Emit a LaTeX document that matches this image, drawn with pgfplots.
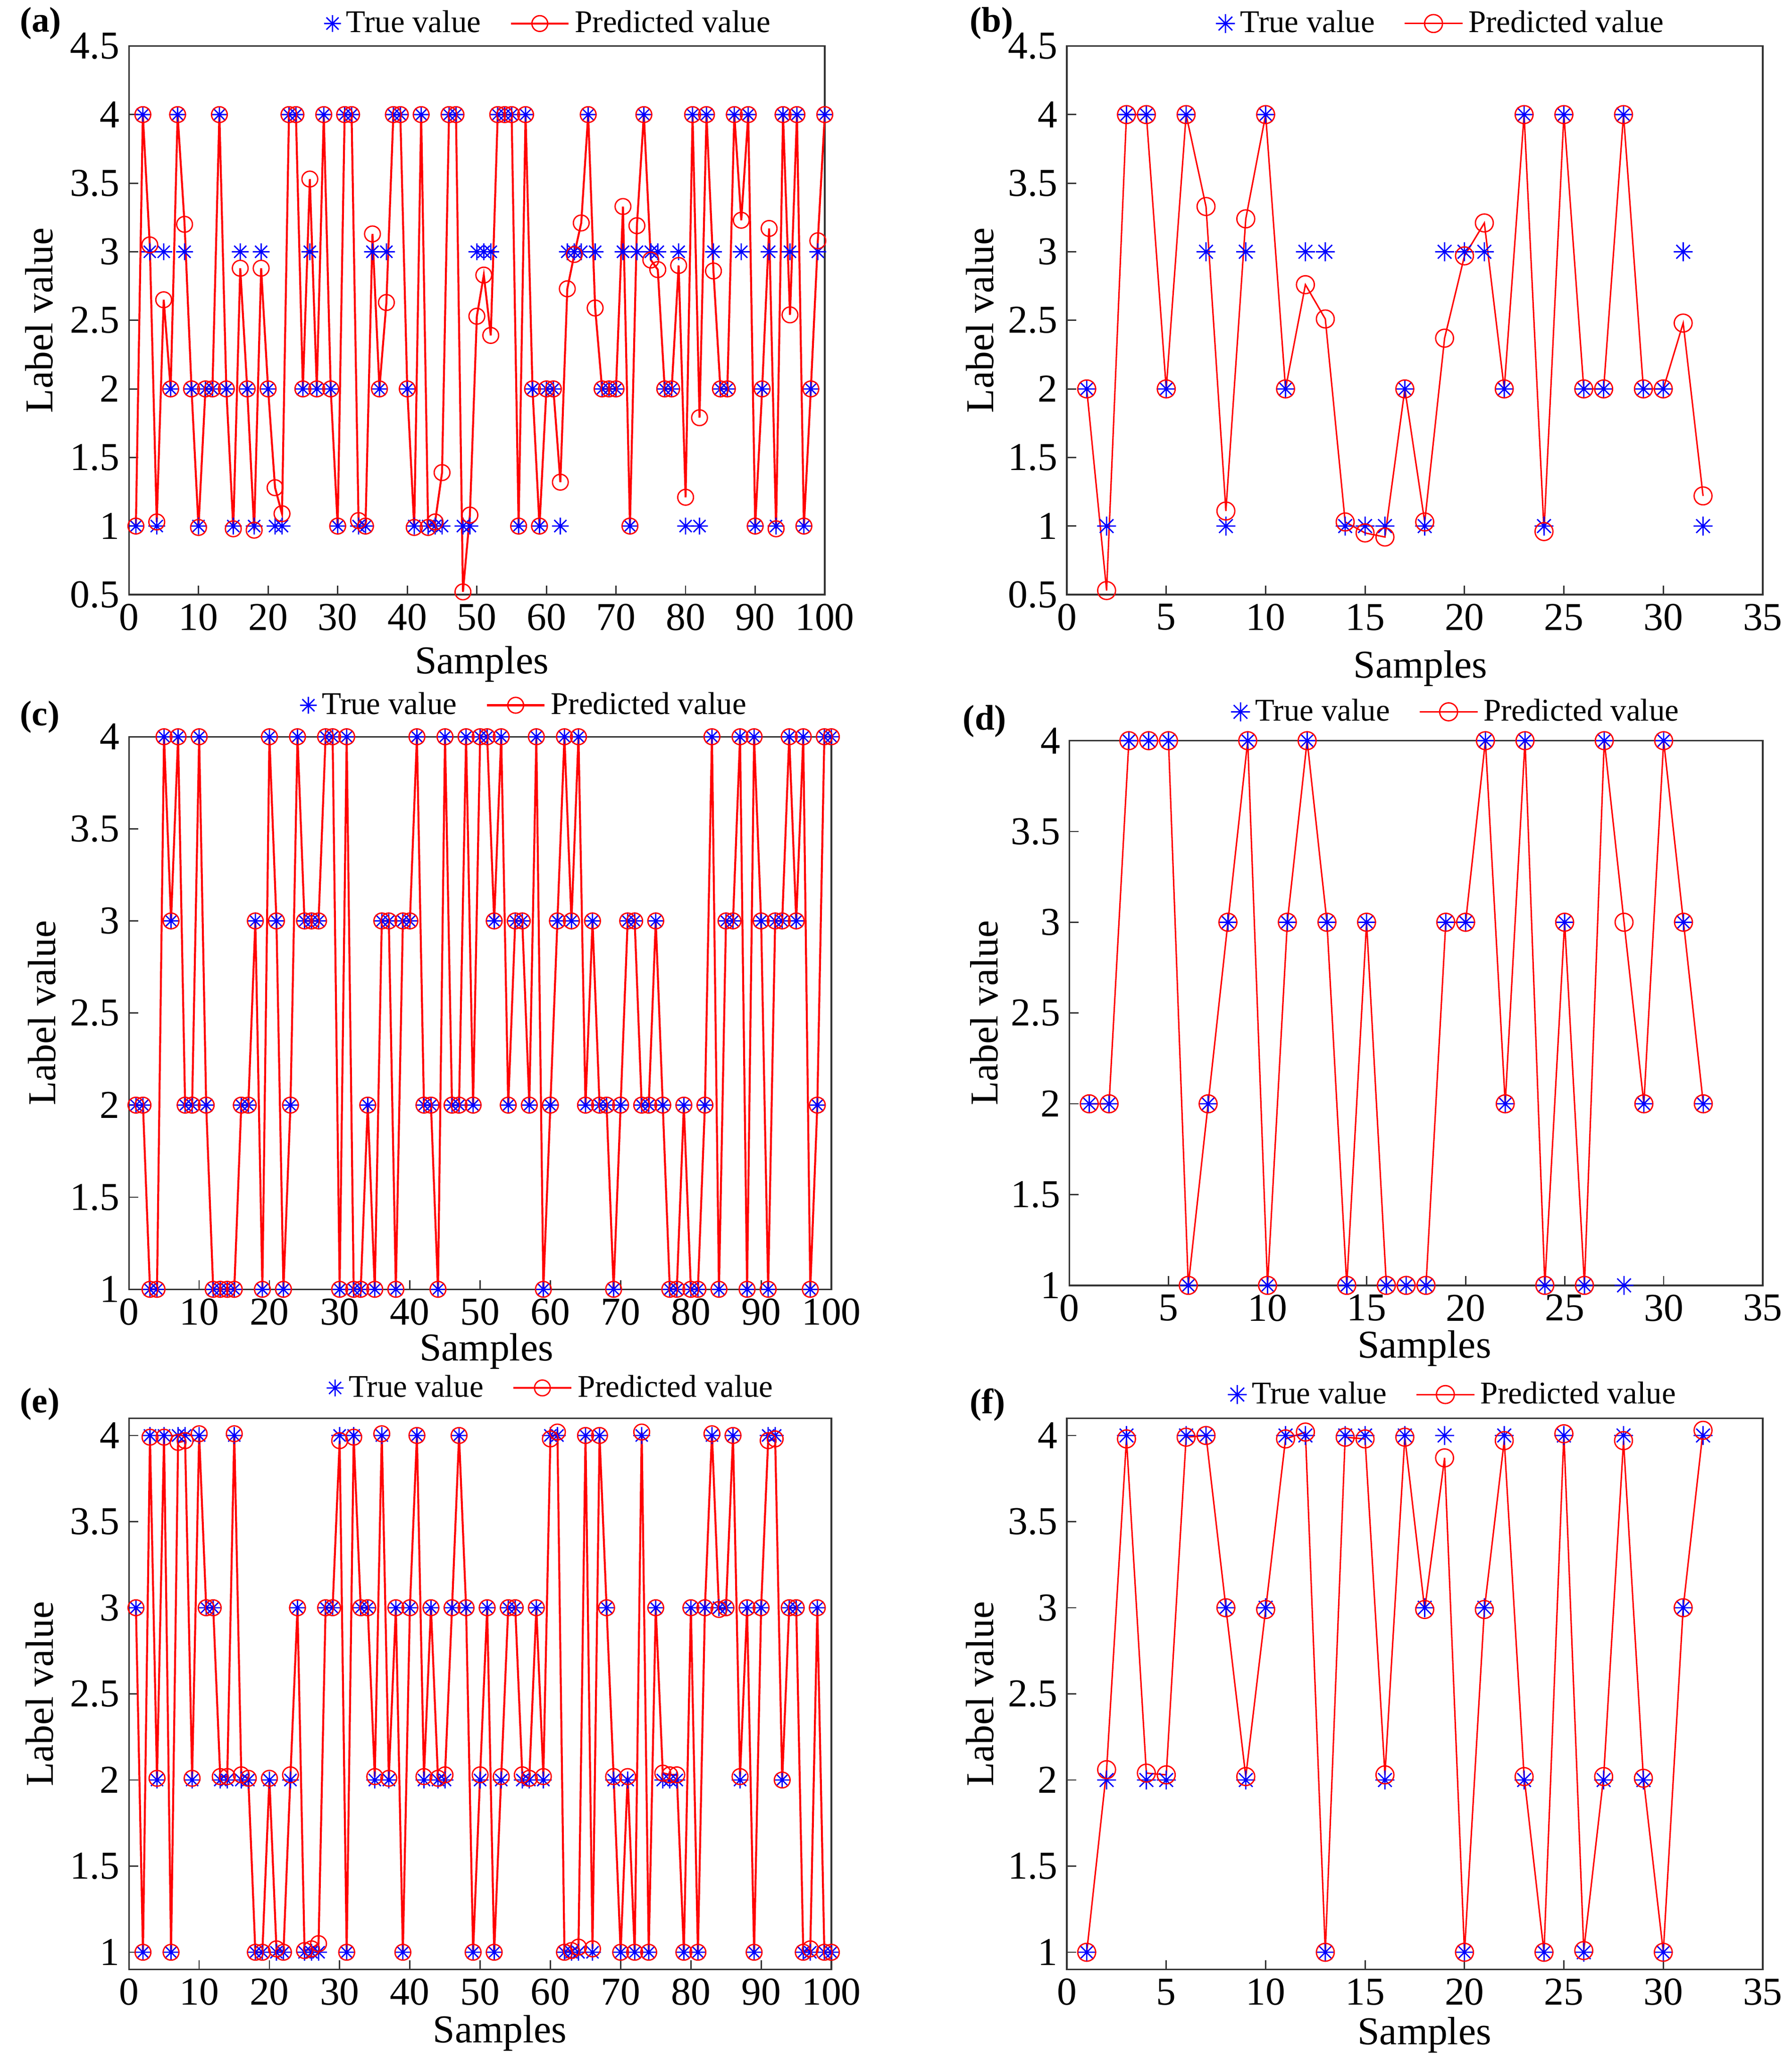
\documentclass[border=0pt]{standalone}
\usepackage{pgfplots}
\usepackage{pgfplotstable}
\pgfplotsset{compat=1.18}
\usepackage{fontspec}
\setmainfont{Liberation Serif}

\pgfdeclareplotmark{mstar}{%
  \pgfpathmoveto{\pgfpoint{-\pgfplotmarksize}{0pt}}\pgfpathlineto{\pgfpoint{\pgfplotmarksize}{0pt}}%
  \pgfpathmoveto{\pgfpoint{0pt}{-\pgfplotmarksize}}\pgfpathlineto{\pgfpoint{0pt}{\pgfplotmarksize}}%
  \pgfpathmoveto{\pgfpoint{-0.72\pgfplotmarksize}{-0.72\pgfplotmarksize}}\pgfpathlineto{\pgfpoint{0.72\pgfplotmarksize}{0.72\pgfplotmarksize}}%
  \pgfpathmoveto{\pgfpoint{-0.72\pgfplotmarksize}{0.72\pgfplotmarksize}}\pgfpathlineto{\pgfpoint{0.72\pgfplotmarksize}{-0.72\pgfplotmarksize}}%
  \pgfusepathqstroke}

\pgfplotstableread{
x t p
1 1 1
2 4 4
3 3 3.05
4 1 1.03
5 3 2.65
6 2 2
7 4 4
8 3 3.2
9 2 2
10 1 0.99
11 2 2
12 2 2
13 4 4
14 2 2
15 1 0.98
16 3 2.88
17 2 2
18 1 0.97
19 3 2.88
20 2 2
21 1 1.28
22 1 1.09
23 4 4
24 4 4
25 2 2
26 3 3.53
27 2 2
28 4 4
29 2 2
30 1 1
31 4 4
32 4 4
33 1 1.04
34 1 1
35 3 3.13
36 2 2
37 3 2.63
38 4 4
39 4 4
40 2 2
41 1 0.99
42 4 4
43 1 0.99
44 1 1.03
45 1 1.39
46 4 4
47 4 4
48 1 0.52
49 1 1.08
50 3 2.53
51 3 2.83
52 3 2.39
53 4 4
54 4 4
55 4 4
56 1 1
57 4 4
58 2 2
59 1 1
60 2 2
61 2 2
62 1 1.32
63 3 2.73
64 3 2.98
65 3 3.21
66 4 4
67 3 2.59
68 2 2
69 2 2
70 2 2
71 3 3.33
72 1 1
73 3 3.19
74 4 4
75 3 2.94
76 3 2.87
77 2 2
78 2 2
79 3 2.9
80 1 1.21
81 4 4
82 1 1.79
83 4 4
84 3 2.86
85 2 2
86 2 2
87 4 4
88 3 3.23
89 4 4
90 1 1
91 2 2
92 3 3.17
93 1 0.98
94 4 4
95 3 2.54
96 4 4
97 1 1
98 2 2
99 3 3.08
100 4 4
}\dataA

\pgfplotstableread{
x t p
1 2 2
2 1 0.53
3 4 4
4 4 4
5 2 2
6 4 4
7 3 3.33
8 1 1.11
9 3 3.24
10 4 4
11 2 2
12 3 2.76
13 3 2.51
14 1 1.03
15 1 0.95
16 1 0.92
17 2 2
18 1 1.03
19 3 2.37
20 3 2.97
21 3 3.21
22 2 2
23 4 4
24 1 0.96
25 4 4
26 2 2
27 2 2
28 4 4
29 2 2
30 2 2
31 3 2.48
32 1 1.22
}\dataB

\pgfplotstableread{
x t p
1 2 2
2 2 2
3 1 1
4 1 1
5 4 4
6 3 3
7 4 4
8 2 2
9 2 2
10 4 4
11 2 2
12 1 1
13 1 1
14 1 1
15 1 1
16 2 2
17 2 2
18 3 3
19 1 1
20 4 4
21 3 3
22 1 1
23 2 2
24 4 4
25 3 3
26 3 3
27 3 3
28 4 4
29 4 4
30 1 1
31 4 4
32 1 1
33 1 1
34 2 2
35 1 1
36 3 3
37 3 3
38 1 1
39 3 3
40 3 3
41 4 4
42 2 2
43 2 2
44 1 1
45 4 4
46 2 2
47 2 2
48 4 4
49 2 2
50 4 4
51 4 4
52 3 3
53 4 4
54 2 2
55 3 3
56 3 3
57 2 2
58 4 4
59 1 1
60 2 2
61 3 3
62 4 4
63 3 3
64 4 4
65 2 2
66 3 3
67 2 2
68 2 2
69 1 1
70 2 2
71 3 3
72 3 3
73 2 2
74 2 2
75 3 3
76 2 2
77 1 1
78 1 1
79 2 2
80 1 1
81 1 1
82 2 2
83 4 4
84 1 1
85 3 3
86 3 3
87 4 4
88 1 1
89 4 4
90 3 3
91 1 1
92 3 3
93 3 3
94 4 4
95 3 3
96 4 4
97 1 1
98 2 2
99 4 4
100 4 4
}\dataC

\pgfplotstableread{
x t p
1 2 2
2 2 2
3 4 4
4 4 4
5 4 4
6 1 1
7 2 2
8 3 3
9 4 4
10 1 1
11 3 3
12 4 4
13 3 3
14 1 1
15 3 3
16 1 1
17 1 1
18 1 1
19 3 3
20 3 3
21 4 4
22 2 2
23 4 4
24 1 1
25 3 3
26 1 1
27 4 4
28 1 3
29 2 2
30 4 4
31 3 3
32 2 2
}\dataD

\pgfplotstableread{
x t p
1 3 3
2 1 1
3 4 3.99
4 2 2.01
5 4 3.99
6 1 1
7 4 3.96
8 4 3.97
9 2 2.01
10 4 4.01
11 3 3
12 3 3
13 2 2.02
14 2 2.02
15 4 4.01
16 2 2.03
17 2 2.01
18 1 1
19 1 1
20 2 2.01
21 1 1.02
22 1 1
23 2 2.03
24 3 3
25 1 1.01
26 1 1.02
27 1 1.05
28 3 3
29 3 3
30 4 3.97
31 1 1
32 4 3.99
33 3 3
34 3 3
35 2 2.02
36 4 4.01
37 2 2.01
38 3 3
39 1 1
40 3 3
41 4 4
42 2 2.02
43 3 3
44 2 2.01
45 2 2.03
46 3 3
47 4 4
48 3 3
49 1 1
50 2 2.03
51 3 3
52 1 1
53 2 2.02
54 3 3
55 3 3
56 2 2.03
57 2 2.01
58 3 3
59 2 2.02
60 4 3.98
61 4 4.02
62 1 1
63 1 1.01
64 1 1.03
65 4 4
66 1 1.02
67 4 4
68 3 3
69 2 2.02
70 1 1
71 2 2.02
72 1 1
73 4 4.02
74 1 1
75 3 3
76 2 2.04
77 2 2.03
78 2 2.03
79 1 1
80 3 3
81 1 1
82 3 3
83 4 4.01
84 3 2.99
85 3 3
86 4 4
87 2 2.02
88 3 3
89 1 1
90 3 3
91 4 3.97
92 4 3.98
93 2 2
94 3 3
95 3 3
96 1 1
97 1 1.02
98 3 3
99 1 1
100 1 1
}\dataE

\pgfplotstableread{
x t p
1 1 1
2 2 2.06
3 4 3.98
4 2 2.04
5 2 2.03
6 4 3.99
7 4 4
8 3 3
9 2 2.02
10 3 2.99
11 4 3.98
12 4 4.02
13 1 1
14 4 3.99
15 4 3.98
16 2 2.03
17 4 3.99
18 3 2.99
19 4 3.87
20 1 1
21 3 2.99
22 4 3.97
23 2 2.02
24 1 1
25 4 4.01
26 1 1.01
27 2 2.02
28 4 3.97
29 2 2.01
30 1 1
31 3 3
32 4 4.03
}\dataF

\pgfplotsset{
  panel/.style={
    scale only axis, anchor=south west, clip=false,
    axis line style={line width=0.6pt, black!80},
    tick style={line width=0.5pt, black!80},
    major tick length=3.5pt,
    tick align=inside, tick pos=left,
    ticklabel style={font=\fontsize{15}{17}\selectfont},
    label style={font=\fontsize{15}{17}\selectfont},
    /pgf/number format/assume math mode=true,
    xlabel={Samples}, ylabel={Label value},
    legend style={draw=none, fill=none, font=\fontsize{12}{14}\selectfont,
      legend columns=2, anchor=center,
      /tikz/every even column/.append style={column sep=9pt}},
    legend cell align=left,
  },
  truep/.style={only marks, color=blue, mark=mstar, mark size=#1, mark options={line width=0.5pt}},
  predp/.style={color=red, mark=o, mark size=#1, mark options={line width=0.5pt, solid},
    legend image code/.code={\draw[mark repeat=2,mark phase=2,##1] plot coordinates {(0pt,0pt) (11pt,0pt) (22pt,0pt)};}},
}

\begin{document}
\begin{tikzpicture}
\path[use as bounding box] (0pt,0pt) rectangle (681pt,781.75pt);

% (a)
\begin{axis}[panel, at={(49pt,555.75pt)}, width=264.5pt, height=208.5pt,
  xmin=0, xmax=100, ymin=0.5, ymax=4.5,
  xtick={0,10,20,30,40,50,60,70,80,90,100},
  ytick={0.5,1,1.5,2,2.5,3,3.5,4,4.5},
  xlabel style={at={(axis description cs:0.507,-0.127)}, anchor=center},
  ylabel style={at={(axis description cs:-0.129,0.5)}, anchor=center},
  legend style={at={(0.605,1.041)}}]
\addplot[truep=3.2pt] table[x=x,y=t] {\dataA};
\addplot[predp=3pt, line width=0.75pt] table[x=x,y=p] {\dataA};
\addlegendentry{True value}
\addlegendentry{Predicted value}
\node[anchor=west, font=\bfseries\fontsize{13.5}{15}\selectfont] at (axis description cs:-0.170,1.041) {(a)};
\end{axis}

% (b)
\begin{axis}[panel, at={(405.5pt,555.75pt)}, width=264.5pt, height=208.5pt,
  xmin=0, xmax=35, ymin=0.5, ymax=4.5,
  xtick={0,5,10,15,20,25,30,35},
  ytick={0.5,1,1.5,2,2.5,3,3.5,4,4.5},
  xlabel style={at={(axis description cs:0.508,-0.134)}, anchor=center},
  ylabel style={at={(axis description cs:-0.125,0.5)}, anchor=center},
  legend style={at={(0.540,1.041)}}]
\addplot[truep=3.6pt] table[x=x,y=t] {\dataB};
\addplot[predp=3.4pt, line width=0.55pt] table[x=x,y=p] {\dataB};
\addlegendentry{True value}
\addlegendentry{Predicted value}
\node[anchor=west, font=\bfseries\fontsize{13.5}{15}\selectfont] at (axis description cs:-0.153,1.041) {(b)};
\end{axis}

% (c)
\begin{axis}[panel, at={(49pt,291.75pt)}, width=267pt, height=210pt,
  xmin=0, xmax=100, ymin=1, ymax=4,
  xtick={0,10,20,30,40,50,60,70,80,90,100},
  ytick={1,1.5,2,2.5,3,3.5,4},
  xlabel style={at={(axis description cs:0.509,-0.112)}, anchor=center},
  ylabel style={at={(axis description cs:-0.124,0.5)}, anchor=center},
  legend style={at={(0.565,1.057)}}]
\addplot[truep=3.2pt] table[x=x,y=t] {\dataC};
\addplot[predp=3pt, line width=0.75pt] table[x=x,y=p] {\dataC};
\addlegendentry{True value}
\addlegendentry{Predicted value}
\node[anchor=west, font=\bfseries\fontsize{13.5}{15}\selectfont] at (axis description cs:-0.168,1.036) {(c)};
\end{axis}

% (d)
\begin{axis}[panel, at={(406.5pt,293.25pt)}, width=263.5pt, height=207pt,
  xmin=0, xmax=35, ymin=1, ymax=4,
  xtick={0,5,10,15,20,25,30,35},
  ytick={1,1.5,2,2.5,3,3.5,4},
  xlabel style={at={(axis description cs:0.512,-0.116)}, anchor=center},
  ylabel style={at={(axis description cs:-0.123,0.5)}, anchor=center},
  legend style={at={(0.560,1.053)}}]
\addplot[truep=3.6pt] table[x=x,y=t] {\dataD};
\addplot[predp=3.4pt, line width=0.55pt] table[x=x,y=p] {\dataD};
\addlegendentry{True value}
\addlegendentry{Predicted value}
\node[anchor=west, font=\bfseries\fontsize{13.5}{15}\selectfont] at (axis description cs:-0.167,1.036) {(d)};
\end{axis}

% (e)
\begin{axis}[panel, at={(49pt,33.25pt)}, width=267pt, height=209.5pt,
  xmin=0, xmax=100, ymin=0.9, ymax=4.1,
  xtick={0,10,20,30,40,50,60,70,80,90,100},
  ytick={1,1.5,2,2.5,3,3.5,4},
  xlabel style={at={(axis description cs:0.528,-0.115)}, anchor=center},
  ylabel style={at={(axis description cs:-0.127,0.5)}, anchor=center},
  legend style={at={(0.603,1.055)}}]
\addplot[truep=3.2pt] table[x=x,y=t] {\dataE};
\addplot[predp=3pt, line width=0.75pt] table[x=x,y=p] {\dataE};
\addlegendentry{True value}
\addlegendentry{Predicted value}
\node[anchor=west, font=\bfseries\fontsize{13.5}{15}\selectfont] at (axis description cs:-0.168,1.026) {(e)};
\end{axis}

% (f)
\begin{axis}[panel, at={(405.5pt,33.25pt)}, width=264.5pt, height=209.5pt,
  xmin=0, xmax=35, ymin=0.9, ymax=4.1,
  xtick={0,5,10,15,20,25,30,35},
  ytick={1,1.5,2,2.5,3,3.5,4},
  xlabel style={at={(axis description cs:0.514,-0.119)}, anchor=center},
  ylabel style={at={(axis description cs:-0.125,0.5)}, anchor=center},
  legend style={at={(0.557,1.043)}}]
\addplot[truep=3.6pt] table[x=x,y=t] {\dataF};
\addplot[predp=3.4pt, line width=0.55pt] table[x=x,y=p] {\dataF};
\addlegendentry{True value}
\addlegendentry{Predicted value}
\node[anchor=west, font=\bfseries\fontsize{13.5}{15}\selectfont] at (axis description cs:-0.153,1.024) {(f)};
\end{axis}
\end{tikzpicture}
\end{document}
